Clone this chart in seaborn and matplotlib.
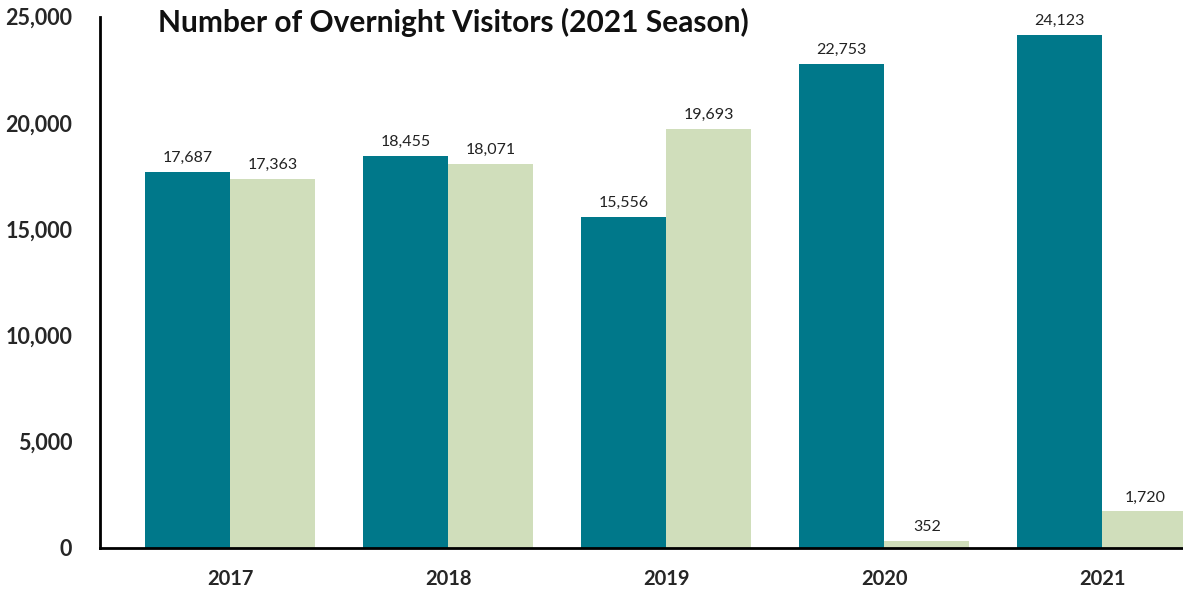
import pandas as pd
import numpy as np
import matplotlib.pyplot as plt
import seaborn as sns

years = ["2017", "2018", "2019", "2020", "2021"]
series_a = [17687, 18455, 15556, 22753, 24123]
series_b = [17363, 18071, 19693, 352, 1720]
series_names = ["Group A", "Group B"]
y_ticks = [0, 5000, 10000, 15000, 20000, 25000]

dati = pd.DataFrame({
    "year": years * 2,
    "visitors": series_a + series_b,
    "group": [series_names[0]] * len(years) + [series_names[1]] * len(years),
})

sns.set_style("white")
plt.rcParams['font.family'] = ['Lato', 'DejaVu Sans']

fig = plt.figure(figsize=(11.83, 5.9), dpi=100)
ax = fig.add_axes([100 / 1183, 42 / 590, 1 - 100 / 1183, (548 - 16.5) / 590])

sns.barplot(data=dati, x="year", y="visitors", hue="group", order=years,
            hue_order=series_names, palette=["#00788A", "#D0DEBB"],
            width=0.78, saturation=1, legend=False, linewidth=0, ax=ax)

for cont in ax.containers:
    ax.bar_label(cont, labels=[f"{v:,.0f}" for v in cont.datavalues],
                 padding=5, fontsize=11.5, color="#222222")

ax.set_ylim(0, 25000)
ax.set_xlim(-0.596, 4.37)
ax.set_yticks(y_ticks)
ax.set_yticklabels([f"{t:,}" for t in y_ticks], fontsize=15.5, fontweight="bold")
ax.set_xticklabels(years, fontsize=14.5, fontweight="bold")
ax.tick_params(axis="y", length=0, pad=20)
ax.tick_params(axis="x", length=0, pad=15)
for lab in ax.get_yticklabels():
    lab.set_va("center_baseline")
ax.set_xlabel("")
ax.set_ylabel("")

sns.despine(ax=ax)
for s in ["left", "bottom"]:
    ax.spines[s].set_color("black")
    ax.spines[s].set_linewidth(2)

fig.text(158 / 1183, 1 - 22 / 590, "Number of Overnight Visitors (2021 Season)",
         fontsize=21.5, fontweight="bold", va="center", ha="left", color="#111111")

fig.savefig("out.png", dpi=100)
